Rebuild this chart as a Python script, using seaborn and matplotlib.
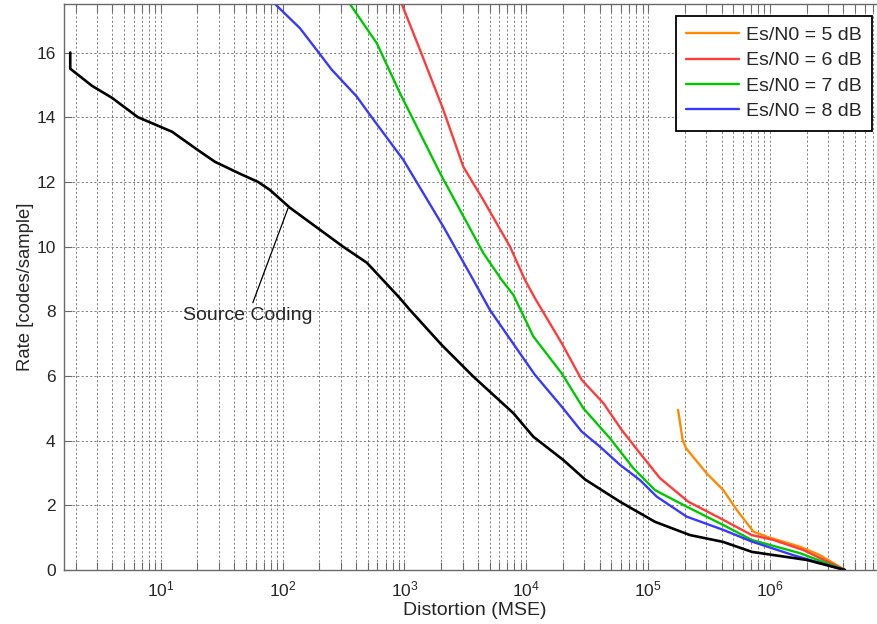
import numpy as np
import pandas as pd
import matplotlib
matplotlib.use("Agg")
import matplotlib.pyplot as plt
import seaborn as sns

# ---- data ----
src_d = [1.81, 1.81, 2.73, 3.98, 6.5, 12.4, 19.9, 27.9, 44.8, 62.9, 78.8, 115, 313, 492,
         920, 1110, 2020, 3675, 7830, 11430, 20150, 30350, 58800, 113800, 220400, 411000,
         711000, 2.01e6, 4.12e6]
src_r = [16.0, 15.5, 14.97, 14.6, 14.0, 13.55, 13.0, 12.62, 12.25, 12.0, 11.75, 11.2, 10.0, 9.5,
         8.4, 8.04, 6.96, 5.98, 4.85, 4.12, 3.40, 2.80, 2.11, 1.49, 1.08, 0.87,
         0.56, 0.31, 0.0]

d5 = [176000, 192000, 205000, 302000, 414000, 533000, 730000, 939000, 1.76e6, 2.57e6, 4.12e6]
r5 = [4.95, 4.02, 3.76, 2.99, 2.47, 1.86, 1.19, 1.03, 0.72, 0.46, 0.0]

d6 = [951, 1343, 2085, 3040, 4440, 7350, 9750, 11800, 19540, 28500, 42900, 60700, 85700,
      125000, 213800, 414000, 708000, 1.065e6, 1.87e6, 4.12e6]
r6 = [17.5, 16.08, 14.23, 12.47, 11.44, 10.0, 8.97, 8.40, 7.01, 5.88, 5.16, 4.33, 3.61,
      2.84, 2.11, 1.55, 1.08, 0.93, 0.62, 0.0]

d7 = [357, 593, 920, 1960, 4440, 6280, 7820, 11430, 19540, 29400, 48700, 75500, 113800,
      207000, 414000, 708000, 1.76e6, 4.12e6]
r7 = [17.5, 16.29, 14.74, 12.27, 9.8, 8.97, 8.51, 7.22, 6.08, 5.0, 4.07, 3.15, 2.47,
      1.96, 1.39, 0.93, 0.52, 0.0]

d8 = [86.7, 139, 195, 253, 406, 522, 980, 2085, 3675, 5030, 9450, 11800, 19540, 28500,
      40300, 58800, 85700, 117500, 207000, 414000, 708000, 1.55e6, 4.12e6]
r8 = [17.5, 16.75, 16.03, 15.47, 14.64, 14.07, 12.68, 10.62, 8.97, 8.04, 6.55, 6.03, 5.05, 4.28,
      3.81, 3.25, 2.78, 2.27, 1.65, 1.24, 0.88, 0.46, 0.0]

labels = ["Es/N0 = 5 dB", "Es/N0 = 6 dB", "Es/N0 = 7 dB", "Es/N0 = 8 dB"]
colors = ["#FF8A00", "#FF3B3B", "#00C800", "#3838FF"]
xticks = [1e1, 1e2, 1e3, 1e4, 1e5, 1e6]
yticks = [0, 2, 4, 6, 8, 10, 12, 14, 16]

# ---- style ----
sns.set_style("ticks")
plt.rcParams['font.family'] = ['Liberation Sans', 'DejaVu Sans']
plt.rcParams['mathtext.fontset'] = 'custom'
plt.rcParams['mathtext.rm'] = 'Liberation Sans'
plt.rcParams['mathtext.it'] = 'Liberation Sans:italic'
plt.rcParams['mathtext.bf'] = 'Liberation Sans:bold'

fig = plt.figure(figsize=(8.77, 6.24), dpi=100)
W, H = 877, 624
left_px, bottom_px, top_px = 64, 570, 4
dec = 121.86
xmin_log = 1 - (160.7 - left_px) / dec
xmax_log = 6.94
width_px = (xmax_log - xmin_log) * dec
ax = fig.add_axes([left_px / W, (H - bottom_px) / H, width_px / W, (bottom_px - top_px) / H])

series = [(d5, r5), (d6, r6), (d7, r7), (d8, r8)]
for (d, r), lab, c in zip(series, labels, colors):
    df = pd.DataFrame({"d": d, "r": r})
    sns.lineplot(data=df, x="d", y="r", ax=ax, color=c, lw=1.7, label=lab,
                 sort=False, estimator=None)

dfs = pd.DataFrame({"d": src_d, "r": src_r})
sns.lineplot(data=dfs, x="d", y="r", ax=ax, color="black", lw=1.9, sort=False,
             estimator=None, legend=False)

ax.set_xscale("log")
ax.set_xlim(10 ** xmin_log, 10 ** xmax_log)
ax.set_ylim(0, 17.5)
ax.set_xticks(xticks)
ax.set_xticklabels([r"$10^{%d}$" % int(round(np.log10(v))) for v in xticks])
ax.set_yticks(yticks)

ax.grid(True, which="major", axis="both", color="#808080", ls=(0, (2.2, 2.2)), lw=0.7)
ax.grid(True, which="minor", axis="x", color="#808080", ls=(0, (2.2, 2.2)), lw=0.7)

for s in ax.spines.values():
    s.set_color("#6a6a6a")
    s.set_linewidth(1.0)
ax.tick_params(which="both", direction="in", top=True, right=True, color="#6a6a6a",
               labelsize=12.5, width=0.8)
ax.tick_params(which="major", length=6)
ax.tick_params(which="minor", length=6)
ax.tick_params(axis="x", pad=7)
ax.tick_params(axis="y", pad=6)

ax.set_xlabel("Distortion (MSE)", fontsize=14, labelpad=2)
ax.set_ylabel("Rate [codes/sample]", fontsize=13.3, labelpad=2)

ax.annotate("Source Coding", xy=(111, 11.19), xytext=(52, 7.86),
            fontsize=14, ha="center", va="center",
            arrowprops=dict(arrowstyle="-", color="black", lw=0.9, shrinkA=1, shrinkB=0))

leg = ax.legend(loc="upper right", bbox_to_anchor=(872 / W, 1 - 15.7 / H),
                bbox_transform=fig.transFigure, borderaxespad=0, frameon=True,
                fancybox=False, fontsize=14, handlelength=2.7, labelspacing=0.4,
                borderpad=0.55, handletextpad=0.35)
leg.get_frame().set_edgecolor("black")
leg.get_frame().set_linewidth(1.3)
leg.get_frame().set_alpha(1)

fig.savefig("out.png", dpi=100)
